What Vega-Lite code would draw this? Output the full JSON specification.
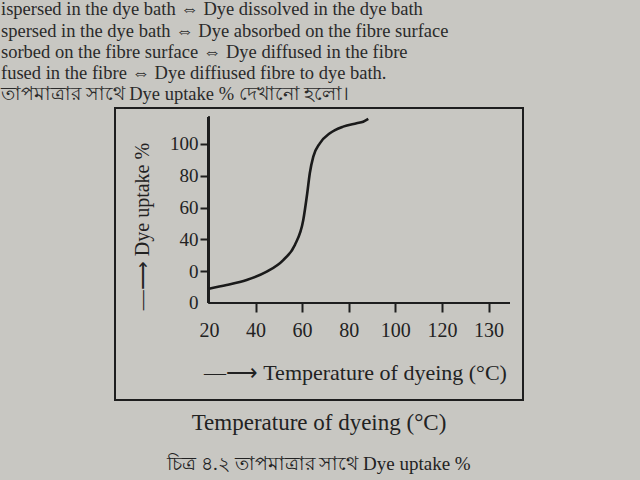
{
  "$schema": "https://vega.github.io/schema/vega-lite/v6.json",
  "background": "#c8c7c2",
  "padding": {"left": 1, "top": 0, "right": 118, "bottom": 34},
  "title": {
    "text": [
      "ispersed in the dye bath ⇔ Dye dissolved in the dye bath",
      "spersed in the dye bath ⇔ Dye absorbed on the fibre surface",
      "sorbed on the fibre surface ⇔ Dye diffused in the fibre",
      "fused in the fibre ⇔ Dye diffiused fibre to dye bath.",
      "তাপমাত্রার সাথে Dye uptake % দেখানো হলো।"
    ],
    "anchor": "start",
    "frame": "bounds",
    "dx": -113,
    "fontSize": 18.5,
    "font": "Liberation Serif",
    "fontWeight": "normal",
    "color": "#2a2a2a",
    "lineHeight": 21.3,
    "offset": 3
  },
  "vconcat": [
    {
      "width": 408,
      "height": 292,
      "title": {
        "text": "Temperature of dyeing (°C)",
        "subtitle": "চিত্র ৪.২ তাপমাত্রার সাথে Dye uptake %",
        "orient": "bottom",
        "anchor": "middle",
        "font": "Liberation Serif",
        "fontSize": 23,
        "fontWeight": "normal",
        "color": "#222222",
        "subtitleFont": "Liberation Serif",
        "subtitleFontSize": 19,
        "subtitleColor": "#222222",
        "subtitlePadding": 20,
        "offset": 12
      },
      "data": {
        "values": [
          {"temp": 20, "uptake": 9},
          {"temp": 27.6, "uptake": 11.3},
          {"temp": 36.2, "uptake": 14.5},
          {"temp": 44.8, "uptake": 19.7},
          {"temp": 51.9, "uptake": 27.0},
          {"temp": 56.9, "uptake": 36.5},
          {"temp": 60.5, "uptake": 52.2},
          {"temp": 62.2, "uptake": 69.0},
          {"temp": 63.3, "uptake": 81.6},
          {"temp": 64.8, "uptake": 92.0},
          {"temp": 67.6, "uptake": 100.4},
          {"temp": 71.9, "uptake": 106.7},
          {"temp": 77.6, "uptake": 110.9},
          {"temp": 83.4, "uptake": 113.0},
          {"temp": 86.2, "uptake": 114.0},
          {"temp": 88.4, "uptake": 115.7}
        ]
      },
      "layer": [
        {
          "mark": {"type": "rule", "color": "#1e1e1e", "strokeWidth": 2.2},
          "encoding": {
            "x": {"datum": 20, "type": "quantitative"},
            "x2": {"datum": 149},
            "y": {"datum": 0, "type": "quantitative"}
          }
        },
        {
          "mark": {"type": "rule", "color": "#1e1e1e", "strokeWidth": 2.2},
          "encoding": {
            "x": {"datum": 20, "type": "quantitative"},
            "y": {"datum": 0, "type": "quantitative"},
            "y2": {"datum": 117}
          }
        },
        {
          "mark": {"type": "line", "interpolate": "monotone", "color": "#1a1a1a", "strokeWidth": 2.6},
          "encoding": {
            "x": {
              "field": "temp",
              "type": "quantitative",
              "scale": {"domain": [-20.3, 154.8], "nice": false, "zero": false},
              "axis": {
                "offset": -97,
                "domain": false,
                "grid": false,
                "values": [20, 40, 60, 80, 100, 120, 140],
                "labelExpr": "datum.value == 140 ? '130' : datum.label",
                "tickOpacity": {"expr": "datum.value == 20 ? 0 : 1"},
                "tickSize": 9,
                "tickWidth": 2,
                "tickColor": "#1e1e1e",
                "labelPadding": 8,
                "labelFont": "Liberation Serif",
                "labelFontSize": 20,
                "labelColor": "#222222",
                "title": "—⟶ Temperature of dyeing (°C)",
                "titleFont": "Liberation Serif",
                "titleFontSize": 22,
                "titleFontWeight": "normal",
                "titleColor": "#222222",
                "titleX": 240,
                "titleY": 69,
                "titleBaseline": "middle"
              }
            },
            "y": {
              "field": "uptake",
              "type": "quantitative",
              "scale": {"domain": [-61, 122.6], "nice": false, "zero": false},
              "axis": {
                "offset": -94,
                "domain": false,
                "grid": false,
                "values": [0, 20, 40, 60, 80, 100],
                "labelExpr": "datum.value == 20 ? '0' : datum.label",
                "tickOpacity": {"expr": "datum.value == 0 ? 0 : 1"},
                "tickSize": 9,
                "tickWidth": 2,
                "tickColor": "#1e1e1e",
                "labelPadding": 2,
                "labelFont": "Liberation Serif",
                "labelFontSize": 19,
                "labelColor": "#222222",
                "title": "—⟶  Dye uptake %",
                "titleFont": "Liberation Serif",
                "titleFontSize": 20,
                "titleFontWeight": "normal",
                "titleColor": "#222222",
                "titleX": -67,
                "titleY": 118,
                "titleBaseline": "middle"
              }
            }
          }
        }
      ]
    }
  ],
  "config": {
    "view": {"stroke": "#1e1e1e", "strokeWidth": 2}
  }
}
